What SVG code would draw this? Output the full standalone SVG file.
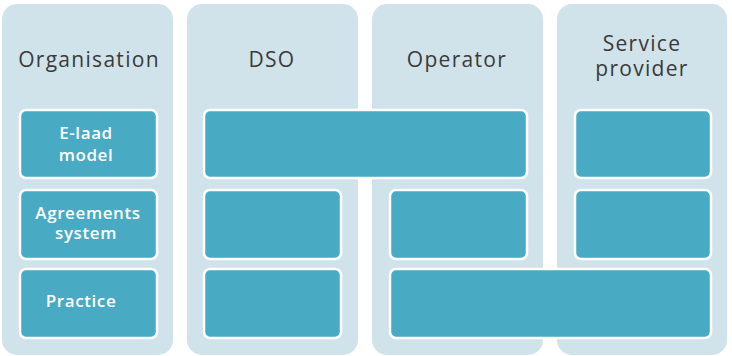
<svg xmlns="http://www.w3.org/2000/svg" width="732" height="356" viewBox="0 0 732 356">
<style>
.col{fill:#d1e3ea}
.box{fill:#49aac4;stroke:#ffffff;stroke-width:2.5}
.hd{font-family:"Open Sans","Liberation Sans",sans-serif;font-size:21px;fill:#3a3a3a;text-anchor:middle;letter-spacing:1.3px}
.lb{font-family:"Open Sans","Liberation Sans",sans-serif;font-size:17px;fill:#ffffff;text-anchor:middle;font-weight:600;letter-spacing:0.6px}
</style>
<rect width="732" height="356" fill="#ffffff"/>
<g id="col-organisation">
<rect class="col" x="2" y="4" width="171" height="351" rx="15"/>
<text class="hd" x="89" y="67">Organisation</text>
</g>
<g id="col-dso">
<rect class="col" x="187" y="4" width="171" height="351" rx="15"/>
<text class="hd" x="272" y="67">DSO</text>
</g>
<g id="col-operator">
<rect class="col" x="372" y="4" width="171" height="351" rx="15"/>
<text class="hd" x="457" y="67">Operator</text>
</g>
<g id="col-service-provider">
<rect class="col" x="557" y="4" width="170" height="351" rx="15"/>
<text class="hd" x="642" y="51">Service</text>
<text class="hd" x="642" y="76">provider</text>
</g>
<g id="elaad-model">
<rect class="box" x="20" y="110" width="137" height="68" rx="6"/>
<text class="lb" x="86" y="139">E-laad</text>
<text class="lb" x="86" y="161">model</text>
</g>
<g id="agreements-system">
<rect class="box" x="20" y="190" width="137" height="69" rx="6"/>
<text class="lb" x="88" y="219">Agreements</text>
<text class="lb" x="86" y="239">system</text>
</g>
<g id="practice">
<rect class="box" x="20" y="269" width="137" height="69" rx="6"/>
<text class="lb" x="81" y="307">Practice</text>
</g>
<g id="dso-operator-row1">
<rect class="box" x="204" y="110" width="323" height="68" rx="6"/>
</g>
<g id="sp-row1">
<rect class="box" x="575" y="110" width="136" height="68" rx="6"/>
</g>
<g id="dso-row2">
<rect class="box" x="204" y="190" width="137" height="69" rx="6"/>
</g>
<g id="operator-row2">
<rect class="box" x="390" y="190" width="137" height="69" rx="6"/>
</g>
<g id="sp-row2">
<rect class="box" x="575" y="190" width="136" height="69" rx="6"/>
</g>
<g id="dso-row3">
<rect class="box" x="204" y="269" width="137" height="69" rx="6"/>
</g>
<g id="operator-sp-row3">
<rect class="box" x="390" y="269" width="321" height="69" rx="6"/>
</g>
<g id="connectors"></g>
</svg>
